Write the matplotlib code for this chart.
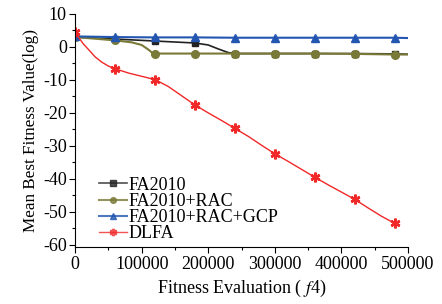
import matplotlib
matplotlib.use('Agg')
import matplotlib.pyplot as plt

plt.rcParams['font.family'] = ['Liberation Serif', 'DejaVu Serif']
plt.rcParams['mathtext.fontset'] = 'stix'
plt.rcParams['font.size'] = 13
plt.rcParams['axes.unicode_minus'] = False

# FA2010
fa_x = [0, 60000, 120000, 180000, 200000, 215000, 230000, 240000, 300000, 360000, 420000, 480000, 500000]
fa_y = [3.0, 2.4, 1.8, 1.2, 0.6, -0.6, -1.7, -2.0, -2.0, -2.0, -2.0, -2.1, -2.2]
# FA2010+RAC
rac_x = [0, 60000, 85000, 100000, 110000, 116000, 120000, 180000, 240000, 300000, 360000, 420000, 480000, 500000]
rac_y = [3.0, 2.0, 1.4, 0.6, -0.8, -1.8, -2.0, -2.0, -2.0, -2.0, -2.0, -2.1, -2.3, -2.3]
# FA2010+RAC+GCP
gcp_x = [0, 60000, 120000, 180000, 240000, 300000, 360000, 420000, 480000, 500000]
gcp_y = [3.2, 3.0, 2.9, 2.9, 2.8, 2.8, 2.8, 2.8, 2.8, 2.7]
# DLFA
dlfa_x = [0, 5000, 12000, 22000, 30000, 40000, 50000, 60000, 80000, 100000, 120000, 140000,
          160000, 180000, 200000, 220000, 240000, 260000, 280000, 300000, 320000, 340000,
          360000, 380000, 400000, 420000, 440000, 460000, 480000]
dlfa_y = [4.5, 3.0, 1.0, -1.2, -3.0, -4.6, -5.8, -6.6, -7.9, -8.9, -9.9, -12.0,
          -14.8, -17.6, -20.0, -22.3, -24.7, -27.1, -29.8, -32.4, -34.7, -37.1,
          -39.5, -41.8, -44.0, -46.2, -48.8, -51.3, -53.5]

marks = [0, 60000, 120000, 180000, 240000, 300000, 360000, 420000, 480000]


def idx(xs):
    return [i for i, v in enumerate(xs) if v in marks]


fig = plt.figure(figsize=(4.42, 3.04), dpi=100)
ax = fig.add_axes([0.170, 0.186, 0.753, 0.768])

ax.plot(fa_x, fa_y, color='#222222', lw=1.2, marker='s', ms=5, markevery=idx(fa_x), label='FA2010')
ax.plot(rac_x, rac_y, color='#7a7a38', lw=1.5, marker='o', ms=5.5, markevery=idx(rac_x), label='FA2010+RAC')
ax.plot(gcp_x, gcp_y, color='#2356b0', lw=1.5, marker='^', ms=6, markevery=idx(gcp_x), label='FA2010+RAC+GCP')
ax.plot(dlfa_x, dlfa_y, color='#f02828', lw=1.0, marker=(6, 2, 0), ms=7, mew=1.8,
        markevery=idx(dlfa_x), label='DLFA')

ax.set_xlim(0, 500000)
ax.set_ylim(-60.8, 10)
ax.set_xticks([0, 100000, 200000, 300000, 400000, 500000])
ax.set_xticks(range(50000, 500000, 100000), minor=True)
ax.set_yticks(range(-60, 11, 10))
ax.set_yticks(range(-55, 10, 10), minor=True)
ax.spines['top'].set_visible(False)
ax.spines['right'].set_visible(False)
ax.tick_params(direction='out', length=4, width=0.8, pad=2)
ax.tick_params(which='minor', direction='out', length=2.5, width=0.8)

ax.set_xlabel('Fitness Evaluation ( $\\it{f}$4)', labelpad=4)
ax.set_ylabel('Mean Best Fitness Value(log)', fontsize=12.3, labelpad=3)

leg = ax.legend(loc='lower left', bbox_to_anchor=(0.055, 0.0), frameon=False, handlelength=1.55,
                handletextpad=0.1, labelspacing=-0.05, borderaxespad=0.1, borderpad=0.2,
                markerscale=0.75)
for h in leg.legend_handles:
    h.set_alpha(0.8)

plt.savefig('out.png')
